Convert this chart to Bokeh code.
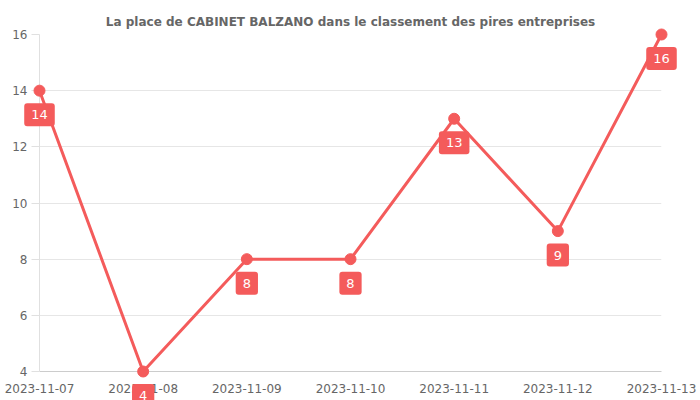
from bokeh.plotting import figure
from bokeh.models import Range1d, FixedTicker, ColumnDataSource
from bokeh.core.properties import value
from bokeh.embed import file_html
from bokeh.resources import INLINE

dates = ["2023-11-07", "2023-11-08", "2023-11-09", "2023-11-10",
         "2023-11-11", "2023-11-12", "2023-11-13"]
ranks = [14, 4, 8, 8, 13, 9, 16]
y_ticks = [4, 6, 8, 10, 12, 14, 16]
title_text = "La place de CABINET BALZANO dans le classement des pires entreprises"

RED = "#f45b5b"
FONT = "DejaVu Sans"

xs = list(range(len(dates)))
src = ColumnDataSource(dict(x=xs, y=ranks, label=[str(r) for r in ranks]))

p = figure(width=700, height=400, output_backend="svg", toolbar_location=None,
           x_range=Range1d(0, len(dates) - 1), y_range=Range1d(min(y_ticks), max(y_ticks)),
           min_border_left=39, min_border_right=39, min_border_top=34, min_border_bottom=29,
           title=title_text)

p.title.text_font = FONT
p.title.text_font_size = "12px"
p.title.text_color = "#666666"
p.title.align = "center"
p.title.text_font_style = "bold"
p.title.standoff = 12

p.outline_line_color = None
p.background_fill_color = "white"
p.border_fill_color = "white"

p.xgrid.visible = False
p.ygrid.grid_line_color = "#e6e6e6"
p.ygrid.ticker = FixedTicker(ticks=y_ticks)

p.xaxis.ticker = FixedTicker(ticks=xs)
p.xaxis.major_label_overrides = {i: d for i, d in enumerate(dates)}
p.xaxis.axis_line_color = "#cccccc"
p.xaxis.major_tick_line_color = None
p.xaxis.minor_tick_line_color = None
p.xaxis.major_label_standoff = 6
p.xaxis.major_label_text_font = FONT
p.xaxis.major_label_text_font_size = "12px"
p.xaxis.major_label_text_color = "#666666"

p.yaxis.ticker = FixedTicker(ticks=y_ticks)
p.yaxis.axis_line_color = "#e0e0e0"
p.yaxis.major_tick_line_color = "#e0e0e0"
p.yaxis.major_tick_out = 8
p.yaxis.major_tick_in = 0
p.yaxis.minor_tick_line_color = None
p.yaxis.major_label_standoff = 4
p.yaxis.major_label_text_font = FONT
p.yaxis.major_label_text_font_size = "12px"
p.yaxis.major_label_text_color = "#666666"

p.line("x", "y", source=src, line_color=RED, line_width=3, level="overlay")
p.scatter("x", "y", source=src, size=11, fill_color=RED, line_color=RED, level="overlay")
p.text("x", "y", text="label", source=src, y_offset=24,
       text_align="center", text_baseline="middle",
       text_font=value(FONT), text_font_size="13px", text_color="white",
       background_fill_color=RED, border_radius=3, padding=7, level="overlay")

open("out.html", "w").write(file_html(p, INLINE))
